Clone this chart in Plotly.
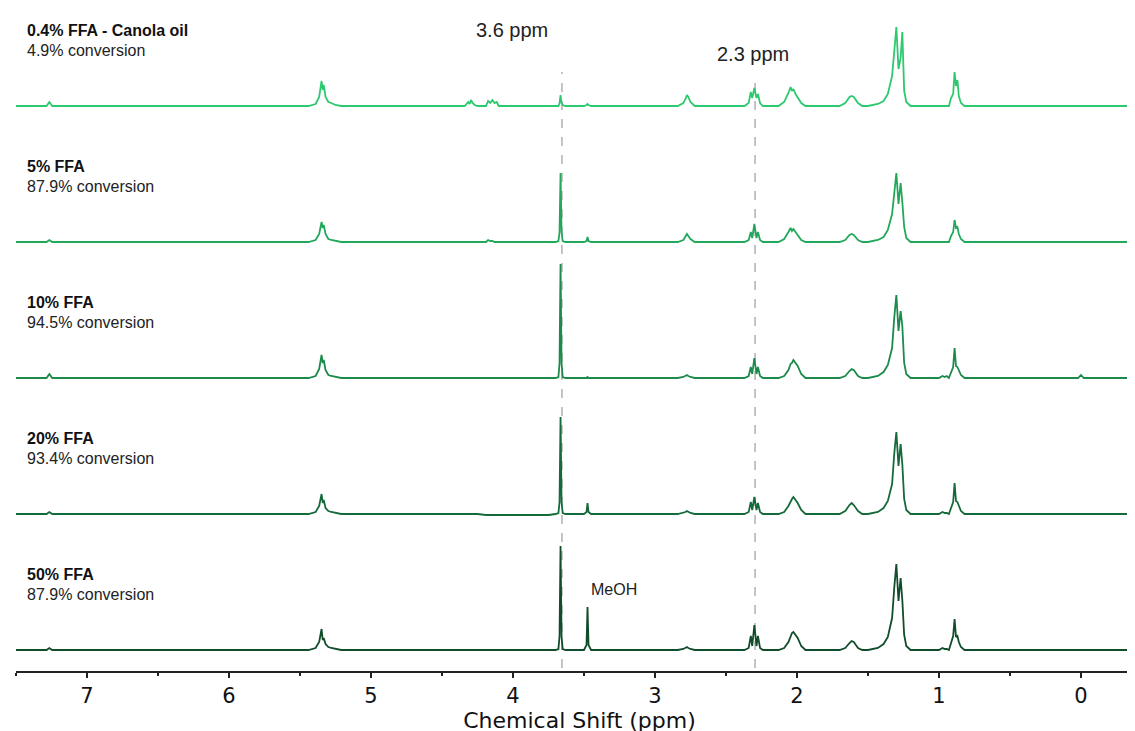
import plotly.graph_objects as go

# ---------------- data ----------------
SAMPLES = ["0.4% FFA - Canola oil", "5% FFA", "10% FFA", "20% FFA", "50% FFA"]
CONVERSIONS = ["4.9% conversion", "87.9% conversion", "94.5% conversion",
               "93.4% conversion", "87.9% conversion"]

# chemical shift grid (ppm)
PPM = [7.50, 7.285, 7.265, 7.245,
       5.44, 5.39, 5.365, 5.355, 5.348, 5.340, 5.333, 5.32, 5.30, 5.28, 5.25, 5.21,
       4.34, 4.315, 4.305, 4.295, 4.285, 4.27, 4.25,
       4.19, 4.175, 4.16, 4.145, 4.13, 4.115, 4.10,
       3.75, 3.70, 3.68, 3.672, 3.665, 3.658, 3.65, 3.63,
       3.50, 3.482, 3.475, 3.468, 3.45,
       2.84, 2.80, 2.785, 2.775, 2.765, 2.75, 2.72,
       2.37, 2.34, 2.325, 2.315, 2.30, 2.285, 2.275, 2.26, 2.24,
       2.13, 2.09, 2.06, 2.045, 2.035, 2.025, 2.01, 1.995, 1.97, 1.94,
       1.70, 1.66, 1.63, 1.615, 1.60, 1.57, 1.54,
       1.50, 1.43, 1.39, 1.36, 1.33, 1.315, 1.30, 1.285, 1.27, 1.258, 1.245, 1.23, 1.20,
       1.00, 0.975, 0.96, 0.945,
       0.93, 0.915, 0.90, 0.89, 0.88, 0.87, 0.86, 0.845, 0.82,
       0.02, 0.0, -0.02, -0.44]

INT_04 = [0, 0, 4, 0,
          0, 2, 9, 17, 25, 16, 21, 9, 4, 3, 1, 0,
          0, 4, 2, 6, 3, 1, 0,
          0, 5, 3, 6, 3, 4, 0,
          0, 0, 0, 3, 11, 3, 1, 0,
          0, 1, 2, 1, 0,
          0, 3, 7, 11, 9, 4, 0,
          0, 3, 14, 8, 18, 8, 12, 3, 0,
          0, 4, 13, 19, 15, 17, 12, 9, 3, 0,
          0, 3, 9, 10, 9, 3, 0,
          0, 2, 5, 12, 30, 55, 79, 37, 48, 74, 15, 4, 0,
          0, 0, 0, 0,
          0, 8, 12, 34, 20, 26, 10, 3, 0,
          0, 0, 0, 0]

INT_5 = [0, 0, 2, 0,
         0, 2, 8, 15, 20, 14, 17, 8, 3, 2, 1, 0,
         0, 0, 0, 0, 0, 0, 0,
         0, 2, 1, 1, 0, 0, 0,
         0, 0, 1, 10, 69, 10, 1, 0,
         0, 1, 5, 1, 0,
         0, 2, 5, 8, 6, 3, 0,
         0, 2, 10, 4, 18, 4, 10, 2, 0,
         0, 3, 10, 14, 11, 13, 10, 7, 2, 0,
         0, 2, 7, 8, 7, 2, 0,
         0, 2, 5, 12, 28, 50, 69, 38, 59, 40, 15, 4, 0,
         0, 0, 0, 0,
         0, 6, 10, 22, 14, 15, 8, 3, 0,
         0, 0, 0, 0]

INT_10 = [0, 0, 4, 0,
          0, 2, 9, 17, 23, 15, 18, 8, 3, 2, 1, 0,
          0, 0, 0, 0, 0, 0, 0,
          0, 0, 0, 0, 0, 0, 0,
          0, 0, 1, 15, 114, 15, 1, 0,
          0, 0, 1, 0, 0,
          0, 1, 2, 3, 2, 1, 0,
          0, 2, 11, 4, 20, 4, 11, 2, 0,
          0, 2, 8, 14, 15, 18, 15, 12, 4, 0,
          0, 2, 7, 9, 8, 2, 0,
          0, 2, 6, 13, 30, 60, 83, 47, 67, 52, 15, 4, 0,
          0, 2, 1, 2,
          0, 6, 11, 30, 12, 11, 8, 3, 0,
          0, 3, 0, 0]

INT_20 = [0, 0, 2, 0,
          0, 2, 8, 14, 20, 11, 14, 6, 3, 2, 1, 0,
          0, 0, 0, 0, 0, 0, 0,
          -1, -1, -1, -1, -1, -1, -1,
          -1, 0, 1, 12, 97, 12, 1, 0,
          0, 2, 11, 2, 0,
          0, 1, 2, 3, 2, 1, 0,
          0, 2, 12, 4, 17, 4, 11, 2, 0,
          0, 2, 8, 13, 15, 17, 14, 11, 4, 0,
          0, 3, 9, 11, 9, 3, 0,
          0, 2, 6, 13, 30, 60, 82, 48, 70, 50, 15, 4, 0,
          0, 2, 1, 1,
          0, 6, 12, 31, 13, 12, 8, 3, 0,
          0, 0, 0, 0]

INT_50 = [0, 0, 2, 0,
          0, 2, 8, 14, 21, 10, 12, 6, 3, 2, 1, 0,
          0, 0, 0, 0, 0, 0, 0,
          0, 0, 0, 0, 0, 0, 0,
          0, 0, 1, 14, 104, 14, 1, 0,
          0, 5, 43, 5, 0,
          0, 1, 2, 3, 2, 1, 0,
          0, 2, 14, 4, 25, 4, 14, 2, 0,
          0, 2, 8, 14, 17, 18, 15, 12, 4, 0,
          0, 2, 7, 9, 8, 2, 0,
          0, 2, 6, 13, 32, 62, 86, 49, 72, 50, 15, 4, 0,
          0, 2, 1, 1,
          0, 6, 14, 31, 13, 14, 8, 3, 0,
          0, 0, 0, 0]

SPECTRA = [INT_04, INT_5, INT_10, INT_20, INT_50]
MARKER_PPM = [3.655, 2.295]
MARKER_LABELS = ["3.6 ppm", "2.3 ppm"]
TICKS = [7, 6, 5, 4, 3, 2, 1, 0]

# ---------------- style / layout ----------------
COLORS = ["#2dc96f", "#22a85a", "#1b8a4a", "#156a3a", "#114d2b"]
STACK_GAP = 136
N = len(SPECTRA)
TXT = "Liberation Sans, Arial"

fig = go.Figure()
for i, (name, ys) in enumerate(zip(SAMPLES, SPECTRA)):
    off = (N - 1 - i) * STACK_GAP
    fig.add_trace(go.Scatter(
        x=PPM, y=[v + off for v in ys], mode="lines", name=name,
        line=dict(color=COLORS[i], width=1.8), showlegend=False,
        hoverinfo="skip"))
    fig.add_annotation(x=0, xref="paper", xanchor="left", xshift=9,
                       y=off + 76, yref="y", yanchor="middle",
                       text="<b>" + name + "</b>", showarrow=False,
                       font=dict(family=TXT, size=16, color="#111"))
    fig.add_annotation(x=0, xref="paper", xanchor="left", xshift=9,
                       y=off + 56, yref="y", yanchor="middle",
                       text=CONVERSIONS[i], showarrow=False,
                       font=dict(family=TXT, size=16, color="#222"))

# dashed reference lines
tops = [578, 568]
for xp, top in zip(MARKER_PPM, tops):
    fig.add_shape(type="line", x0=xp, x1=xp, y0=-18, y1=top, xref="x", yref="y",
                  line=dict(color="#b0b0b0", width=1.5, dash="dash"), layer="below")

fig.add_annotation(x=4.01, y=620, xref="x", yref="y", text=MARKER_LABELS[0],
                   showarrow=False, font=dict(family=TXT, size=20, color="#222"))
fig.add_annotation(x=2.31, y=596, xref="x", yref="y", text=MARKER_LABELS[1],
                   showarrow=False, font=dict(family=TXT, size=20, color="#222"))
fig.add_annotation(x=3.29, y=61, xref="x", yref="y", text="MeOH",
                   showarrow=False, font=dict(family=TXT, size=16, color="#222"))

fig.update_layout(
    width=1135, height=731,
    margin=dict(l=8, r=0, t=0, b=68),
    paper_bgcolor="white", plot_bgcolor="white",
    xaxis=dict(range=[7.5, -0.437], tickvals=TICKS, ticktext=[str(t) for t in TICKS],
               ticks="outside", ticklen=5, tickwidth=1.5, tickcolor="#222",
               showline=True, linecolor="#222", linewidth=1.5, showgrid=False, zeroline=False,
               minor=dict(dtick=0.5, tick0=0, ticks="outside", ticklen=3, tickwidth=1.5,
                          tickcolor="#222", showgrid=False),
               tickfont=dict(family="DejaVu Sans", size=21, color="#111"),
               title=dict(text="Chemical Shift (ppm)", standoff=4,
                          font=dict(family="DejaVu Sans", size=22, color="#111"))),
    yaxis=dict(range=[-21, 642], visible=False, showgrid=False, zeroline=False),
)

fig.write_html("out.html")
